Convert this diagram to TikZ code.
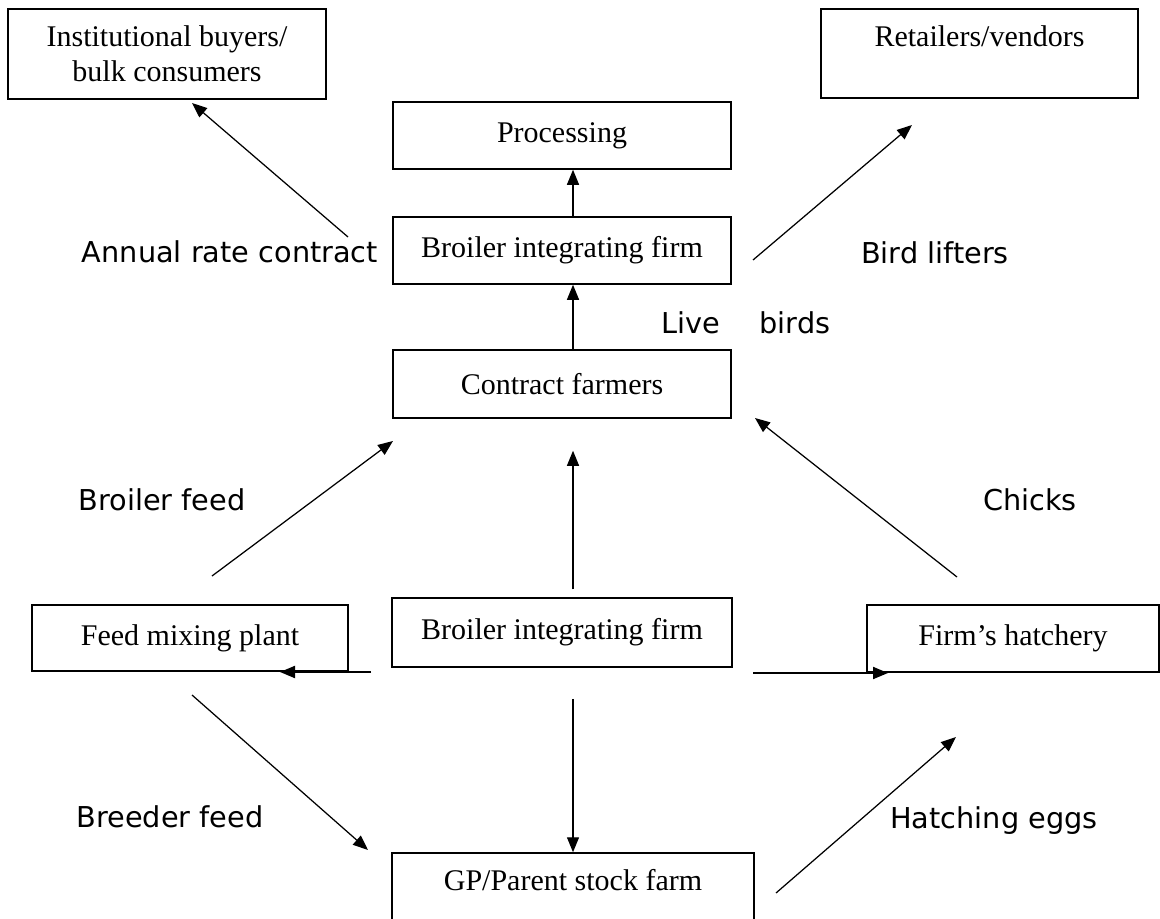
\documentclass[tikz,border=0pt]{standalone}
\usepackage{fontspec}
\setmainfont{Liberation Serif}
\newfontfamily\labelsans{DejaVu Sans}
\usetikzlibrary{arrows.meta}

\begin{document}
\begin{tikzpicture}[x=0.4pt, y=0.4pt,
    box/.style={draw, line width=0.6pt, inner sep=0pt, align=center,
                font=\fontsize{12}{14}\selectfont},
    flow/.style={-{Triangle[length=6pt,width=4.8pt]}, line width=0.5pt},
    tag/.style={inner sep=0pt, anchor=base, font=\labelsans\fontsize{11.5}{13}\selectfont}]
    \useasboundingbox (0,0) rectangle (1160,-919);
    \clip (0,0) rectangle (1160,-919);
    \node [box, minimum width=127.2pt, minimum height=36pt] (inst) at (167,-54) {Institutional buyers/\\bulk consumers};
    \node [box, minimum width=126.8pt, minimum height=35.6pt] (retail) at (979.5,-53.5) {Retailers/vendors\\ \mbox{}};
    \node [box, minimum width=135.2pt, minimum height=26.8pt] (proc) at (562,-135.5) {Processing};
    \node [box, minimum width=135.2pt, minimum height=26.8pt] (firmtop) at (562,-250.5) {Broiler integrating firm};
    \node [box, minimum width=135.2pt, minimum height=27.2pt] (contract) at (562,-384) {Contract farmers};
    \node [box, minimum width=136pt, minimum height=27.6pt] (firmmid) at (562,-632.5) {Broiler integrating firm};
    \node [box, minimum width=126.4pt, minimum height=26.4pt] (feed) at (190,-638) {Feed mixing plant};
    \node [box, minimum width=116.8pt, minimum height=26.8pt] (hatch) at (1013,-638.5) {Firm’s hatchery};
    \node [box, minimum width=144.8pt, minimum height=35.6pt] (gp) at (573,-897.5) {GP/Parent stock farm\\ \mbox{}};
    % free ends of the arrows
    \coordinate (spine) at (573,0);
    \coordinate (rate a) at (348,-237);
    \coordinate (rate b) at (192,-103);
    \coordinate (lift a) at (753,-260);
    \coordinate (lift b) at (912,-125);
    \coordinate (bfeed a) at (212,-576);
    \coordinate (bfeed b) at (393,-441);
    \coordinate (chick a) at (957,-577);
    \coordinate (chick b) at (755,-418);
    \coordinate (mix a) at (371,-672);
    \coordinate (mix b) at (280,-672);
    \coordinate (hat a) at (753,-673);
    \coordinate (hat b) at (888,-673);
    \coordinate (rfeed a) at (192,-695);
    \coordinate (rfeed b) at (368,-850);
    \coordinate (egg a) at (776,-893);
    \coordinate (egg b) at (956,-737);
    \draw [flow] (firmtop.north -| spine) -- (proc.south -| spine);
    \draw [flow] (contract.north -| spine) -- (firmtop.south -| spine);
    \draw [flow, shorten <=3.2pt, shorten >=12.8pt] (firmmid.north -| spine) -- (contract.south -| spine);
    \draw [flow, shorten <=12.4pt] (firmmid.south -| spine) -- (gp.north);
    \draw [flow] (rate a) -- (rate b);
    \draw [flow] (lift a) -- (lift b);
    \draw [flow] (bfeed a) -- (bfeed b);
    \draw [flow] (chick a) -- (chick b);
    \draw [flow, line width=0.8pt] (mix a) -- (mix b);
    \draw [flow, line width=0.8pt] (hat a) -- (hat b);
    \draw [flow] (rfeed a) -- (rfeed b);
    \draw [flow] (egg a) -- (egg b);
    \node [tag] (ratetag) at (230,-262) {Annual rate contract};
    \node [tag] (lifttag) at (935,-263) {Bird lifters};
    \node [tag] (livetag) at (746,-333) {Live\hspace{12pt} birds};
    \node [tag] (bfeedtag) at (162,-510) {Broiler feed};
    \node [tag] (chicktag) at (1030,-510) {Chicks};
    \node [tag] (rfeedtag) at (170,-827) {Breeder feed};
    \node [tag] (eggtag) at (994,-828) {Hatching eggs};
\end{tikzpicture}
\end{document}
